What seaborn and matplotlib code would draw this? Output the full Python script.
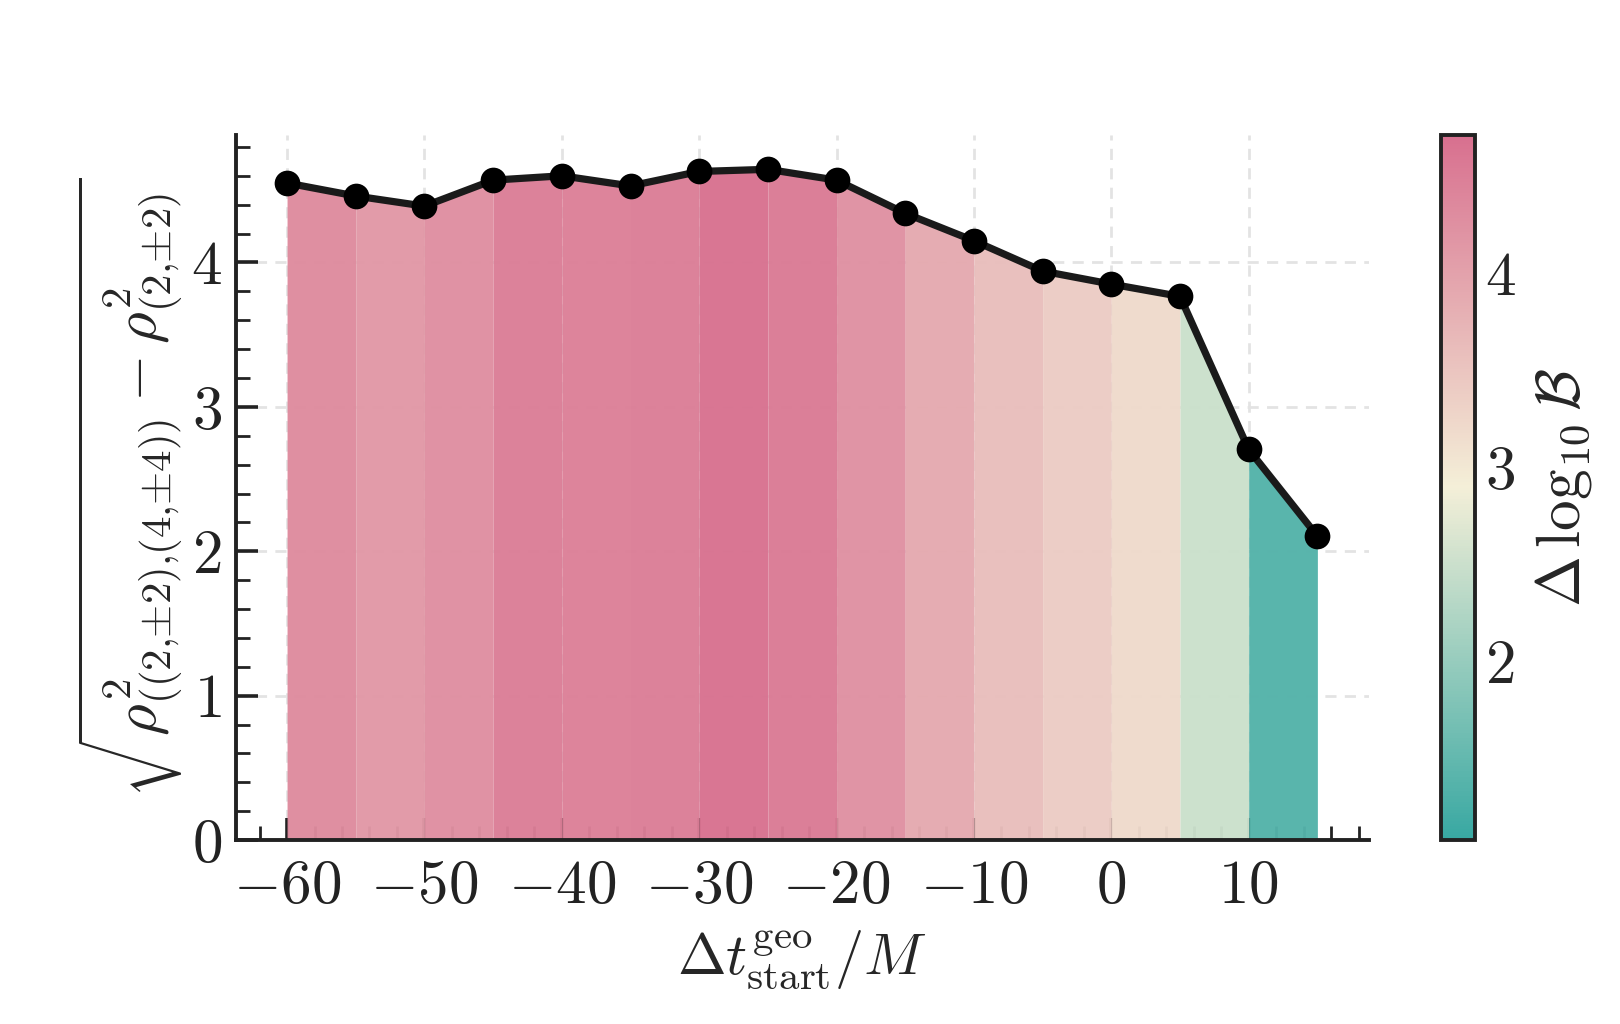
import numpy as np
import seaborn as sns
import matplotlib
matplotlib.use("Agg")
from matplotlib import pyplot as plt
from matplotlib.ticker import MultipleLocator

# start times and SNR of the (4,4) mode on top of the (2,2)
t_start = [-60, -55, -50, -45, -40, -35, -30, -25, -20, -15, -10, -5, 0, 5, 10, 15]
rho_extra = [4.55, 4.46, 4.39, 4.57, 4.60, 4.53, 4.63, 4.645, 4.57, 4.34, 4.15, 3.94, 3.85, 3.765, 2.705, 2.105]
# log Bayes factor for each interval between consecutive start times
dlogB = [4.32, 4.14, 4.27, 4.5, 4.47, 4.5, 4.67, 4.55, 4.24, 3.88, 3.6, 3.4, 3.2, 2.5, 1.35]
bf_min, bf_max = 1.08, 4.71

sns.set_theme(style="white")
plt.rcParams["font.family"] = ["serif"]
plt.rcParams["font.serif"] = ["cmr10", "DejaVu Serif"]
plt.rcParams["mathtext.fontset"] = "cm"
plt.rcParams["axes.formatter.use_mathtext"] = True
plt.rcParams["axes.unicode_minus"] = True

cmap = sns.blend_palette(["#38a8a2", "#f4efd8", "#d8708f"], as_cmap=True)
norm = plt.Normalize(bf_min, bf_max)

fig = plt.figure(figsize=(8.1, 5.12), dpi=200)
ax = fig.add_axes([0.1454, 0.1796, 0.6996, 0.6882])
cax = fig.add_axes([0.8897, 0.1796, 0.021, 0.6882])

ax.grid(True, ls=(0, (4, 3)), color="#e3e3e3", lw=1.0)
ax.set_axisbelow(True)

for i in range(len(dlogB)):
    ax.fill_between(t_start[i:i + 2], 0, rho_extra[i:i + 2],
                    color=cmap(norm(dlogB[i])), alpha=0.97, lw=0)

sns.lineplot(x=t_start, y=rho_extra, ax=ax, color="#1a1a1a", lw=2.6,
             marker="o", markersize=8.5, markerfacecolor="black",
             markeredgecolor="black", zorder=5)

ax.set_xlim(-63.75, 18.75)
ax.set_ylim(0, 4.88)
ax.xaxis.set_major_locator(MultipleLocator(10))
ax.xaxis.set_minor_locator(MultipleLocator(2))
ax.yaxis.set_major_locator(MultipleLocator(1))
ax.yaxis.set_minor_locator(MultipleLocator(0.2))
ax.tick_params(which="both", direction="in", colors="#222222", labelsize=22,
               top=False, right=False, left=True, bottom=True)
ax.tick_params(which="major", length=8, width=1.3)
ax.tick_params(which="minor", length=5, width=1.0)
ax.tick_params(axis="x", pad=7)
ax.tick_params(axis="y", pad=5)
for s in ["top", "right"]:
    ax.spines[s].set_visible(False)
for s in ["left", "bottom"]:
    ax.spines[s].set_color("#222222")
    ax.spines[s].set_linewidth(1.4)

ax.set_xlabel(r"$\Delta t^{\rm geo}_{\rm start}/M$", fontsize=21, labelpad=5)
ax.set_ylabel(r"$\sqrt{\rho^2_{((2{,}{\pm}2){,}(4{,}{\pm}4))} - \rho^2_{(2{,}{\pm}2)}}$",
              fontsize=22, labelpad=2)

sm = plt.cm.ScalarMappable(cmap=cmap, norm=norm)
cb = fig.colorbar(sm, cax=cax)
cb.outline.set_linewidth(1.4)
cb.outline.set_edgecolor("#222222")
cb.locator = MultipleLocator(1)
cb.update_ticks()
cax.yaxis.set_minor_locator(MultipleLocator(0.2))
cax.tick_params(which="both", direction="in", labelsize=22, color="#00000055")
cax.tick_params(which="major", length=6, width=1.2)
cax.tick_params(which="minor", length=4, width=1.0)
cb.set_label(r"$\Delta\,\log_{10}\mathcal{B}$", fontsize=22, labelpad=6)

fig.savefig("out.png", dpi=200)
